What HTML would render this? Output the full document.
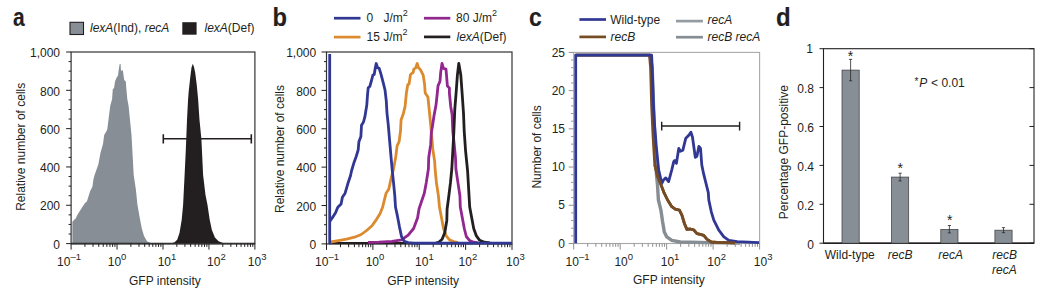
<!DOCTYPE html><html><head><meta charset="utf-8"><style>html,body{margin:0;padding:0;background:#fff;width:1050px;height:298px;overflow:hidden}svg{display:block}text{font-family:"Liberation Sans",sans-serif;fill:#231f20}</style></head><body>
<svg width="1050" height="298" viewBox="0 0 1050 298">
<text transform="translate(12.9,25.7) scale(0.84,1)" font-size="25" font-weight="bold" stroke="#231f20" stroke-width="0.15">a</text>
<rect x="70" y="22.3" width="13.5" height="12.2" fill="#878e96" stroke="#231f20" stroke-width="1.1"/>
<text x="90" y="32.2" font-size="12"><tspan font-style="italic">lexA</tspan>(Ind), <tspan font-style="italic">recA</tspan></text>
<rect x="182.3" y="22.2" width="14.3" height="12.5" fill="#231f20"/>
<text x="204.5" y="32.2" font-size="12"><tspan font-style="italic">lexA</tspan>(Def)</text>
<polygon points="72.4,243.6 72.4,221.2 73.2,221.2 73.9,219.8 75.4,219 77.2,215.3 79.5,211.6 82,207.5 85,203 86.9,201.6 88.7,195.7 90.1,191.2 92.4,186.8 93.4,179.4 94.6,175 98.3,164.5 100.5,152.7 103,143.9 104.2,135 106.5,131 107.3,129.2 110.2,106 112.1,99 112.8,89 114,88.2 115,81.6 116.9,77.1 118,75.7 118.7,69.8 119.7,63.9 120.6,63.9 120.9,69.8 121.7,71.2 122.8,69.8 123.4,74.2 124.2,80.1 125.8,81.6 126.5,90.4 127.3,99 128.6,106 131.5,135 133.7,175 135.9,189.8 137.4,204.5 139.6,217 141.8,228.6 144,236 147,241.2 150.7,243.1 153,243.6" fill="#878e96"/>
<polygon points="170,243.6 174.3,242.6 177.2,239.7 179.5,233 181.7,219.8 183.1,205 184.6,175 185.8,150 187,120 188.1,99 188.8,90.4 190.3,77.1 191.5,67.5 192.8,63.7 194,67 195.2,72.7 196.7,84.5 198.1,99 199.5,120 201.4,139 203.1,175 205.5,195 207.5,205 209.7,219.8 211.9,230.1 214.9,237.5 218.6,241.2 223,243.1 227,243.6" fill="#231f20"/>
<line x1="71.1" y1="243.6" x2="254.9" y2="243.6" stroke="#231f20" stroke-width="1.8"/>
<rect x="71.1" y="52" width="183.8" height="191.6" fill="none" stroke="#333" stroke-width="1.2"/>
<path d="M71.1,243.6h-5M71.1,234.02h-2.5M71.1,224.44h-2.5M71.1,214.86h-2.5M71.1,205.28h-5M71.1,195.7h-2.5M71.1,186.12h-2.5M71.1,176.54h-2.5M71.1,166.96h-5M71.1,157.38h-2.5M71.1,147.8h-2.5M71.1,138.22h-2.5M71.1,128.64h-5M71.1,119.06h-2.5M71.1,109.48h-2.5M71.1,99.9h-2.5M71.1,90.32h-5M71.1,80.74h-2.5M71.1,71.16h-2.5M71.1,61.58h-2.5M71.1,52h-5" stroke="#231f20" stroke-width="1" fill="none"/>
<text x="60" y="248.8" font-size="12" text-anchor="end" >0</text>
<text x="60" y="210.48" font-size="12" text-anchor="end" >200</text>
<text x="60" y="172.16" font-size="12" text-anchor="end" >400</text>
<text x="60" y="133.84" font-size="12" text-anchor="end" >600</text>
<text x="60" y="95.52" font-size="12" text-anchor="end" >800</text>
<text x="60" y="57.2" font-size="12" text-anchor="end" >1,000</text>
<path d="M71.1,243.6v6M84.93,243.6v3.3M93.02,243.6v3.3M98.76,243.6v3.3M103.22,243.6v3.3M106.86,243.6v3.3M109.93,243.6v3.3M112.6,243.6v3.3M114.95,243.6v3.3M117.05,243.6v6M130.88,243.6v3.3M138.97,243.6v3.3M144.71,243.6v3.3M149.17,243.6v3.3M152.81,243.6v3.3M155.88,243.6v3.3M158.55,243.6v3.3M160.9,243.6v3.3M163,243.6v6M176.83,243.6v3.3M184.92,243.6v3.3M190.66,243.6v3.3M195.12,243.6v3.3M198.76,243.6v3.3M201.83,243.6v3.3M204.5,243.6v3.3M206.85,243.6v3.3M208.95,243.6v6M222.78,243.6v3.3M230.87,243.6v3.3M236.61,243.6v3.3M241.07,243.6v3.3M244.71,243.6v3.3M247.78,243.6v3.3M250.45,243.6v3.3M252.8,243.6v3.3M254.9,243.6v6" stroke="#231f20" stroke-width="1" fill="none"/>
<text x="69" y="265.7" font-size="12" text-anchor="middle">10<tspan font-size="9.5" dy="-5.3">&#8211;1</tspan></text>
<text x="117.05" y="265.7" font-size="12" text-anchor="middle">10<tspan font-size="9.5" dy="-5.3">0</tspan></text>
<text x="167" y="265.7" font-size="12" text-anchor="middle">10<tspan font-size="9.5" dy="-5.3">1</tspan></text>
<text x="216.35" y="265.7" font-size="12" text-anchor="middle">10<tspan font-size="9.5" dy="-5.3">2</tspan></text>
<text x="257.2" y="265.7" font-size="12" text-anchor="middle">10<tspan font-size="9.5" dy="-5.3">3</tspan></text>
<text x="164.9" y="284.6" font-size="12" text-anchor="middle" >GFP intensity</text>
<text transform="translate(24.7,146.8) rotate(-90)" font-size="12" text-anchor="middle">Relative number of cells</text>
<path d="M163.3,138.8H251.3M163.3,134.2v9.4M251.3,134.2v9.4" stroke="#231f20" stroke-width="1.6" fill="none"/>
<text transform="translate(272.6,25.7) scale(0.95,1)" font-size="25" font-weight="bold" stroke="#231f20" stroke-width="0.15">b</text>
<line x1="334" y1="18.2" x2="360.5" y2="18.2" stroke="#313894" stroke-width="2.7"/>
<line x1="334" y1="37.1" x2="360.5" y2="37.1" stroke="#dc8a2e" stroke-width="2.7"/>
<line x1="424" y1="18.2" x2="450.3" y2="18.2" stroke="#92278f" stroke-width="2.7"/>
<line x1="424" y1="36.9" x2="450.3" y2="36.9" stroke="#231f20" stroke-width="2.7"/>
<text x="366.5" y="22.4" font-size="12">0</text><text x="383.5" y="22.4" font-size="12">J/m<tspan font-size="9" dy="-6">2</tspan></text>
<text x="366.5" y="41.2" font-size="12">15 J/m<tspan font-size="9" dy="-6">2</tspan></text>
<text x="456" y="22.4" font-size="12">80 J/m<tspan font-size="9" dy="-6">2</tspan></text>
<text x="456.5" y="41.2" font-size="12"><tspan font-style="italic">lexA</tspan>(Def)</text>
<rect x="326.5" y="52" width="185.5" height="191.9" fill="none" stroke="#333" stroke-width="1.2"/>
<path d="M326.5,243.9h-5M326.5,234.31h-2.5M326.5,224.71h-2.5M326.5,215.12h-2.5M326.5,205.52h-5M326.5,195.93h-2.5M326.5,186.33h-2.5M326.5,176.74h-2.5M326.5,167.14h-5M326.5,157.55h-2.5M326.5,147.95h-2.5M326.5,138.36h-2.5M326.5,128.76h-5M326.5,119.16h-2.5M326.5,109.57h-2.5M326.5,99.97h-2.5M326.5,90.38h-5M326.5,80.78h-2.5M326.5,71.19h-2.5M326.5,61.59h-2.5M326.5,52h-5" stroke="#231f20" stroke-width="1" fill="none"/>
<text x="316.2" y="249.1" font-size="12" text-anchor="end" >0</text>
<text x="316.2" y="210.72" font-size="12" text-anchor="end" >200</text>
<text x="316.2" y="172.34" font-size="12" text-anchor="end" >400</text>
<text x="316.2" y="133.96" font-size="12" text-anchor="end" >600</text>
<text x="316.2" y="95.58" font-size="12" text-anchor="end" >800</text>
<text x="316.2" y="57.2" font-size="12" text-anchor="end" >1,000</text>
<path d="M326.5,243.9v6M340.46,243.9v3.3M348.63,243.9v3.3M354.42,243.9v3.3M358.91,243.9v3.3M362.59,243.9v3.3M365.69,243.9v3.3M368.38,243.9v3.3M370.75,243.9v3.3M372.88,243.9v6M386.84,243.9v3.3M395,243.9v3.3M400.8,243.9v3.3M405.29,243.9v3.3M408.96,243.9v3.3M412.07,243.9v3.3M414.76,243.9v3.3M417.13,243.9v3.3M419.25,243.9v6M433.21,243.9v3.3M441.38,243.9v3.3M447.17,243.9v3.3M451.66,243.9v3.3M455.34,243.9v3.3M458.44,243.9v3.3M461.13,243.9v3.3M463.5,243.9v3.3M465.62,243.9v6M479.59,243.9v3.3M487.75,243.9v3.3M493.55,243.9v3.3M498.04,243.9v3.3M501.71,243.9v3.3M504.82,243.9v3.3M507.51,243.9v3.3M509.88,243.9v3.3M512,243.9v6" stroke="#231f20" stroke-width="1" fill="none"/>
<text x="327" y="265.7" font-size="12" text-anchor="middle">10<tspan font-size="9.5" dy="-5.3">&#8211;1</tspan></text>
<text x="374.98" y="265.7" font-size="12" text-anchor="middle">10<tspan font-size="9.5" dy="-5.3">0</tspan></text>
<text x="424.45" y="265.7" font-size="12" text-anchor="middle">10<tspan font-size="9.5" dy="-5.3">1</tspan></text>
<text x="467.93" y="265.7" font-size="12" text-anchor="middle">10<tspan font-size="9.5" dy="-5.3">2</tspan></text>
<text x="515.4" y="265.7" font-size="12" text-anchor="middle">10<tspan font-size="9.5" dy="-5.3">3</tspan></text>
<text x="423.2" y="284.6" font-size="12" text-anchor="middle" >GFP intensity</text>
<text transform="translate(284.3,149) rotate(-90)" font-size="12" text-anchor="middle">Relative number of cells</text>
<line x1="329" y1="243.2" x2="512" y2="243.2" stroke="#231f20" stroke-width="2.2"/>
<polyline points="331,242 338.4,240.6 346.5,239.2 354.5,237.2 361.2,234.5 366.6,230.5 372,225.8 376.7,219.1 380,213.7 382.7,207 384.1,201.2 386.1,193.2 388.8,189.1 390.8,179.7 393.5,169 395.8,156.5 397.1,145.8 399.1,141.7 400.5,131 401.1,119.8 403.1,114.5 405.1,106.4 406.4,93 407.8,84.5 409.1,83.9 410.5,74.5 413.2,72.4 413.8,69.1 415.8,67.8 417.2,63.5 418.5,67.8 420.5,69.8 423.2,75.1 424.6,84.5 425.2,93 427.9,97 429.3,110.4 430.2,119.8 431.3,131 432.7,148.4 434.7,161.9 435.1,169 436.4,182.4 438.4,195.8 439.5,207 441.5,217.7 443.5,228.5 446.2,235.9 449.5,239.9 453.6,241.6 458,242.6" fill="none" stroke="#dc8a2e" stroke-width="2.8" stroke-linejoin="round"/>
<polyline points="368,242.4 378.7,242.2 392.1,241.3 401.5,239.9 408.2,235.2 413.6,228.5 417.6,217.7 419,209 421.6,201.2 424.3,193.2 426.3,182.4 428.4,169 428.7,157.8 430.7,144.4 431.3,133 432.6,125.2 434,115.8 436,105.1 437.3,93 438,85.9 440,81.2 440.7,72.4 442,63.5 443.4,68.4 446,69.1 447.4,85.9 449.4,87.9 449.4,93 450.7,106.4 452.1,114.5 452.8,131 454.2,144.4 455.5,157.8 455.9,169 457.9,182.4 459.9,195.8 460.3,207 462.3,217.7 464.3,228.5 466.3,236.5 469.7,240.6 473.7,242.2 478,243" fill="none" stroke="#92278f" stroke-width="2.8" stroke-linejoin="round"/>
<polyline points="436,243 438.8,242.2 442.1,239.2 444.8,232.5 446.8,220.4 447.1,209 448.5,198.5 450.5,182.4 451.8,169 452.8,151.1 453.8,133 454.8,109.1 456.1,93 457.4,75.1 458.8,63.5 460.8,75.1 462.1,93 463.5,113.1 464.2,131 465.6,151.1 467.6,171 469.7,207 471.7,217.7 473.7,228.5 476.4,235.9 479.7,240.3 484.4,242.2 490,243" fill="none" stroke="#231f20" stroke-width="2.8" stroke-linejoin="round"/>
<polyline points="329.7,54 329.7,243.2 329.7,222 330.4,220.4 332.4,217.7 335.7,212.4 337.8,207.3 341.1,203.9 342.4,197.2 345.1,193.2 347.8,183.8 350.5,175.7 351.5,171 354.2,161.9 356.2,156.5 358.2,149.8 358.9,141.7 360.9,136.4 361.5,125.2 363.5,121.9 364.8,117.2 366.8,105.1 367.5,95 368.2,87.9 369.8,86.5 371.5,80.5 372.9,75.1 374.2,74.5 375.2,68.4 376.2,63.5 377.6,67.8 379.2,68.4 380.9,73.8 383,81.8 385,89.9 386.3,101.1 387,113.1 388.3,125.2 389.7,141.7 391.1,157.8 392.1,169 393.5,182.4 394.8,195.8 395.5,207 397.5,216.4 399.5,227.1 401.5,236.5 404.2,241.2 408.2,242.6 414,243.2 512,243.2" fill="none" stroke="#313894" stroke-width="2.8" stroke-linejoin="round"/>
<text transform="translate(529.1,25.7) scale(0.92,1)" font-size="25" font-weight="bold" stroke="#231f20" stroke-width="0.15">c</text>
<line x1="579.4" y1="19.5" x2="606" y2="19.5" stroke="#313894" stroke-width="2.7"/>
<line x1="579.4" y1="36.9" x2="606" y2="36.9" stroke="#754c24" stroke-width="2.7"/>
<line x1="676" y1="21.1" x2="702.9" y2="21.1" stroke="#959ca1" stroke-width="2.7"/>
<line x1="676" y1="37.2" x2="702.9" y2="37.2" stroke="#868d93" stroke-width="2.7"/>
<text x="610.2" y="23.8" font-size="12">Wild-type</text>
<text x="610.5" y="41.2" font-size="12" font-style="italic">recB</text>
<text x="707.5" y="23.5" font-size="12" font-style="italic">recA</text>
<text x="707.5" y="41.2" font-size="12" font-style="italic">recB recA</text>
<rect x="573.7" y="52.4" width="185.9" height="191.1" fill="none" stroke="#a8a8a8" stroke-width="1.1"/>
<path d="M573.7,243.5h-5M573.7,235.86h-2.5M573.7,228.21h-2.5M573.7,220.57h-2.5M573.7,212.92h-2.5M573.7,205.28h-5M573.7,197.64h-2.5M573.7,189.99h-2.5M573.7,182.35h-2.5M573.7,174.7h-2.5M573.7,167.06h-5M573.7,159.42h-2.5M573.7,151.77h-2.5M573.7,144.13h-2.5M573.7,136.48h-2.5M573.7,128.84h-5M573.7,121.2h-2.5M573.7,113.55h-2.5M573.7,105.91h-2.5M573.7,98.26h-2.5M573.7,90.62h-5M573.7,82.98h-2.5M573.7,75.33h-2.5M573.7,67.69h-2.5M573.7,60.04h-2.5M573.7,52.4h-5" stroke="#8f8f8f" stroke-width="1" fill="none"/>
<text x="565" y="247.7" font-size="12" text-anchor="end" >0</text>
<text x="565" y="209.48" font-size="12" text-anchor="end" >5</text>
<text x="565" y="171.26" font-size="12" text-anchor="end" >10</text>
<text x="565" y="133.04" font-size="12" text-anchor="end" >15</text>
<text x="565" y="94.82" font-size="12" text-anchor="end" >20</text>
<text x="565" y="56.6" font-size="12" text-anchor="end" >25</text>
<path d="M573.7,243.5v6M587.69,243.5v3.3M595.87,243.5v3.3M601.68,243.5v3.3M606.18,243.5v3.3M609.86,243.5v3.3M612.98,243.5v3.3M615.67,243.5v3.3M618.05,243.5v3.3M620.18,243.5v6M634.17,243.5v3.3M642.35,243.5v3.3M648.16,243.5v3.3M652.66,243.5v3.3M656.34,243.5v3.3M659.45,243.5v3.3M662.15,243.5v3.3M664.52,243.5v3.3M666.65,243.5v6M680.64,243.5v3.3M688.82,243.5v3.3M694.63,243.5v3.3M699.13,243.5v3.3M702.81,243.5v3.3M705.93,243.5v3.3M708.62,243.5v3.3M711,243.5v3.3M713.12,243.5v6M727.12,243.5v3.3M735.3,243.5v3.3M741.11,243.5v3.3M745.61,243.5v3.3M749.29,243.5v3.3M752.4,243.5v3.3M755.1,243.5v3.3M757.47,243.5v3.3M759.6,243.5v6" stroke="#8f8f8f" stroke-width="1" fill="none"/>
<text x="577.5" y="265.7" font-size="12" text-anchor="middle">10<tspan font-size="9.5" dy="-5.3">&#8211;1</tspan></text>
<text x="623.78" y="265.7" font-size="12" text-anchor="middle">10<tspan font-size="9.5" dy="-5.3">0</tspan></text>
<text x="670.05" y="265.7" font-size="12" text-anchor="middle">10<tspan font-size="9.5" dy="-5.3">1</tspan></text>
<text x="716.62" y="265.7" font-size="12" text-anchor="middle">10<tspan font-size="9.5" dy="-5.3">2</tspan></text>
<text x="763.1" y="265.7" font-size="12" text-anchor="middle">10<tspan font-size="9.5" dy="-5.3">3</tspan></text>
<text x="668.9" y="284.4" font-size="12" text-anchor="middle" >GFP intensity</text>
<text transform="translate(540.9,146.9) rotate(-90)" font-size="12" text-anchor="middle">Number of cells</text>
<path d="M661.7,126H739.6M661.7,121.8v8.8M739.6,121.8v8.8" stroke="#231f20" stroke-width="1.4" fill="none"/>
<polyline points="575.7,55.1 650,55.1 652.2,68 654,120 656.6,176.1 657.5,185 658.4,200 660.9,210.1 662.6,221.8 664.3,231.9 666.8,236.9 671.8,240.3 680.2,242 710.4,242.6 740,243" fill="none" stroke="#868d93" stroke-width="3.4" stroke-linejoin="round"/>
<polyline points="575.7,55.1 649.5,55.1 650.6,68.1 651.6,105 653,135.2 654.8,165 657.5,176.1 661.2,185.3 664,192.7 667.6,200 671.8,206.7 675.2,209.2 679.4,210.1 681.9,215.1 684.4,223.5 686.9,229.4 690.3,229 693.6,229.8 697,233.6 700.4,234.4 703.7,235.3 707.1,239.4 711.3,242 717.1,242.3 735,242.8" fill="none" stroke="#754c24" stroke-width="2.8" stroke-linejoin="round"/>
<polyline points="575.7,243.3 575.7,55.1 651.6,55.1 652.2,68.1 653.6,108 654.6,125.1 656.2,145.3 658.7,170.1 661.8,183.5 663.5,180 665.8,177.9 668.6,181.6 671.7,170.1 673.8,161.4 674.8,160.4 676.4,163.4 678.8,148.3 680.4,151.3 682.8,150.3 685.8,138.2 688.8,135.2 690.9,132.2 692.5,137.2 695.3,157.3 696.9,156.3 698.9,146.3 700.5,148.3 701.8,165 703.7,174.2 708.3,192.7 708.8,200 711.3,211.8 713.8,220.1 718.8,230.2 723.9,236.9 728.9,240.3 737.3,241.6 759.1,242.6" fill="none" stroke="#313894" stroke-width="2.8" stroke-linejoin="round"/>
<polyline points="654.8,165 657.5,176.1 661.2,185.3 664,192.7 667.6,200 671.8,206.7 675.2,209.2 679.4,210.1 681.9,215.1 684.4,223.5 686.9,229.4 690.3,229 693.6,229.8 697,233.6 700.4,234.4 703.7,235.3 707.1,239.4 711.3,242 717.1,242.3 735,242.8" fill="none" stroke="#754c24" stroke-width="2.8" stroke-linejoin="round"/>
<text transform="translate(776,25.7) scale(0.96,1)" font-size="25" font-weight="bold" stroke="#231f20" stroke-width="0.15">d</text>
<rect x="823.5" y="48.7" width="210.5" height="194.5" fill="none" stroke="#231f20" stroke-width="1.1"/>
<line x1="823.5" y1="243.2" x2="1034" y2="243.2" stroke="#231f20" stroke-width="1.5"/>
<path d="M823.5,243.2h-4M1034,243.2h-4.5M823.5,204.3h-4M1034,204.3h-4.5M823.5,165.4h-4M1034,165.4h-4.5M823.5,126.5h-4M1034,126.5h-4.5M823.5,87.6h-4M1034,87.6h-4.5M823.5,48.7h-4M1034,48.7h-4.5" stroke="#231f20" stroke-width="1" fill="none"/>
<text x="813.9" y="248.6" font-size="12" text-anchor="end" >0</text>
<text x="813.9" y="209.7" font-size="12" text-anchor="end" >0.2</text>
<text x="813.9" y="170.8" font-size="12" text-anchor="end" >0.4</text>
<text x="813.9" y="131.9" font-size="12" text-anchor="end" >0.6</text>
<text x="813.9" y="93" font-size="12" text-anchor="end" >0.8</text>
<text x="812.9" y="52.9" font-size="12" text-anchor="end" >1</text>
<text transform="translate(788.3,152.2) rotate(-90)" font-size="12" text-anchor="middle">Percentage GFP-positive</text>
<rect x="842" y="70.09" width="17.2" height="173.1" fill="#878e96" stroke="#3a3a3a" stroke-width="0.7"/>
<path d="M850.6,59.4V80.79M849,59.4h3.2M849,80.79h3.2" stroke="#2a2a2a" stroke-width="0.8" fill="none"/>
<rect x="891.5" y="177.07" width="17.2" height="66.13" fill="#878e96" stroke="#3a3a3a" stroke-width="0.7"/>
<path d="M900.1,173.18V180.96M898.5,173.18h3.2M898.5,180.96h3.2" stroke="#2a2a2a" stroke-width="0.8" fill="none"/>
<rect x="940.8" y="229.39" width="17.2" height="13.81" fill="#878e96" stroke="#3a3a3a" stroke-width="0.7"/>
<path d="M949.4,225.5V232.89M947.8,225.5h3.2M947.8,232.89h3.2" stroke="#2a2a2a" stroke-width="0.8" fill="none"/>
<rect x="994.9" y="230.17" width="17.2" height="13.03" fill="#878e96" stroke="#3a3a3a" stroke-width="0.7"/>
<path d="M1003.5,227.64V232.7M1001.9,227.64h3.2M1001.9,232.7h3.2" stroke="#2a2a2a" stroke-width="0.8" fill="none"/>
<text x="850.6" y="61.2" font-size="14" text-anchor="middle" >*</text>
<text x="900.2" y="172.5" font-size="14" text-anchor="middle" >*</text>
<text x="949.8" y="225.4" font-size="14" text-anchor="middle" >*</text>
<text x="914.5" y="86.9" font-size="12"><tspan font-size="10" dy="-1.5">*</tspan><tspan dy="1.5" dx="0.9" font-style="italic">P</tspan> <tspan dx="0.4">&lt;</tspan> 0.01</text>
<text x="849.8" y="259.1" font-size="12" text-anchor="middle" >Wild-type</text>
<text x="900.2" y="259.1" font-size="12" text-anchor="middle" font-style="italic">recB</text>
<text x="950.7" y="259.1" font-size="12" text-anchor="middle" font-style="italic">recA</text>
<text x="1004.6" y="259.1" font-size="12" text-anchor="middle" font-style="italic">recB</text>
<text x="1004.4" y="273.8" font-size="12" text-anchor="middle" font-style="italic">recA</text>
</svg></body></html>
